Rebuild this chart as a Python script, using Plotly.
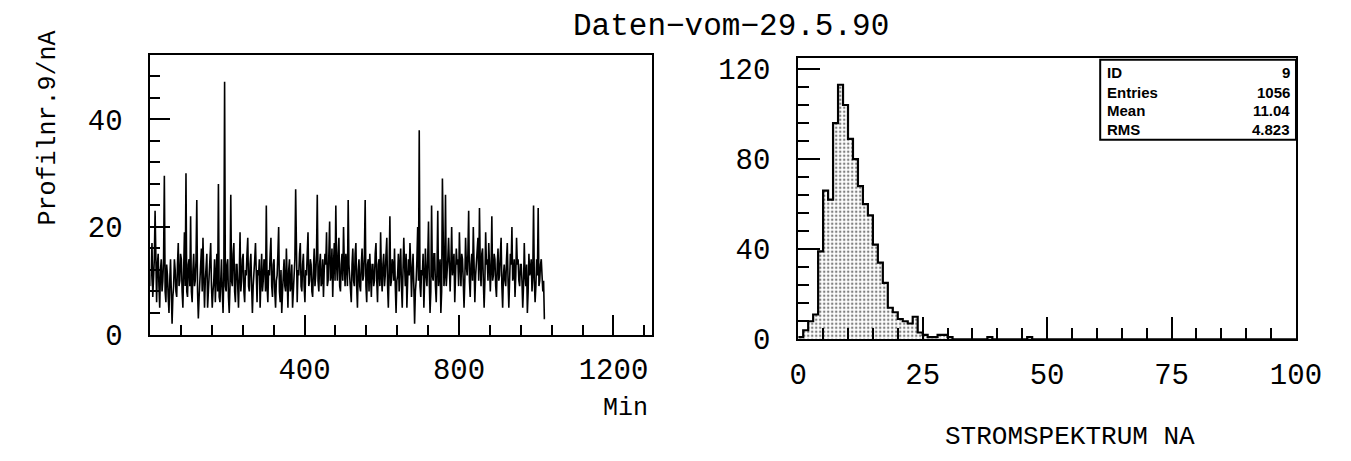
import plotly.graph_objects as go

W, H = 1351, 461

# ---------------- data ----------------
title_text = "Daten\u2212vom\u221229.5.90"
left_ylabel = "Profilnr.9/nA"
left_xlabel = "Min"
right_xlabel = "STROMSPEKTRUM NA"

# current profile (nA), one reading per 2-minute slot
profile_step_min = 2
profile_values = [
    9, 15, 17, 7, 11, 14, 23, 8, 6, 13, 15, 9, 5, 12, 14, 8,
    10, 14, 29.5, 8, 6, 13, 11, 7, 4, 10, 14, 8, 2, 7, 9, 14,
    12, 8, 7, 13, 17, 9, 10, 15, 14, 8, 5, 12, 19, 9, 30, 8,
    7, 13, 14, 9, 22, 8, 6, 12, 15, 9, 10, 14, 25, 8, 3, 7,
    10, 14, 16, 8, 18, 11, 5, 10, 12, 15, 5, 8, 9, 13, 17, 9,
    5, 8, 10, 14, 6, 11, 15, 8, 28, 7, 6, 10, 14, 8, 4, 11,
    47, 9, 8, 13, 14, 7, 4, 9, 26, 10, 9, 15, 17, 8, 6, 13,
    13, 9, 5, 11, 19, 8, 10, 14, 15, 8, 6, 12, 11, 15, 18, 9,
    8, 13, 15, 9, 4, 9, 11, 14, 17, 9, 6, 12, 11, 14, 5, 10,
    15, 8, 10, 14, 13, 8, 24, 9, 6, 12, 11, 15, 18, 9, 7, 13,
    14, 8, 5, 10, 11, 15, 20, 8, 6, 12, 4, 8, 12, 14, 9, 8,
    16, 9, 5, 12, 14, 8, 9, 13, 5, 8, 12, 14, 27, 9, 6, 12,
    11, 15, 17, 9, 8, 13, 15, 9, 6, 12, 11, 15, 19, 9, 10, 14,
    13, 8, 7, 12, 16, 9, 11, 15, 26, 10, 8, 13, 15, 9, 10, 14,
    7, 12, 15, 13, 19, 9, 10, 15, 21, 10, 11, 16, 7, 13, 17, 10,
    24, 13, 10, 15, 18, 9, 8, 13, 15, 10, 20, 13, 9, 15, 13, 9,
    25, 13, 10, 8, 6, 13, 16, 10, 9, 15, 17, 9, 5, 12, 14, 9,
    8, 13, 16, 10, 11, 15, 25, 9, 6, 13, 14, 8, 15, 11, 7, 13,
    13, 9, 10, 15, 17, 10, 6, 13, 14, 9, 19, 11, 8, 13, 15, 9,
    11, 15, 18, 9, 5, 12, 22, 9, 10, 14, 13, 10, 16, 9, 4, 10,
    11, 15, 8, 13, 16, 9, 5, 12, 18, 13, 9, 15, 5, 10, 14, 11,
    17, 13, 7, 12, 15, 9, 2, 8, 10, 14, 20, 10, 38, 9, 7, 12,
    11, 15, 5, 10, 16, 11, 9, 14, 21, 10, 4, 8, 24, 11, 10, 15,
    15, 9, 6, 12, 23, 9, 11, 14, 4, 8, 29, 13, 9, 11, 26, 9,
    11, 14, 18, 9, 8, 13, 20, 11, 13, 15, 6, 11, 16, 13, 14, 9,
    19, 13, 9, 15, 14, 10, 5, 10, 18, 13, 11, 15, 23, 10, 7, 13,
    15, 10, 20, 13, 6, 11, 13, 15, 18, 10, 23.5, 13, 9, 15, 16, 10,
    5, 10, 19, 13, 14, 10, 17, 13, 8, 12, 22, 10, 11, 15, 14, 9,
    7, 13, 16, 10, 11, 15, 18, 9, 5, 11, 13, 10, 9, 14, 17, 10,
    5, 10, 15, 13, 20, 10, 11, 14, 7, 11, 18, 13, 14, 10, 9, 13,
    13, 10, 5, 9, 17, 11, 9, 13, 4, 8, 15, 11, 12, 14, 8, 11,
    24, 10, 6, 9, 14, 11, 23.5, 9, 10, 13, 14, 11, 8, 10, 3, 3,
]
profile_minutes = [profile_step_min * i + profile_step_min / 2 for i in range(len(profile_values))]

# current spectrum histogram, 1 nA bins from 0 to 100
hist_counts = [
    1, 4, 8, 11, 39, 66, 62, 96, 113, 104,
    89, 80, 68, 60, 55, 42, 34, 25, 14, 12,
    9, 8, 7, 10, 3, 2, 1, 1, 2, 2,
    1, 0, 0, 0, 0, 0, 0, 0, 1, 0,
    0, 0, 0, 0, 0, 0, 1, 0, 0, 0,
    0, 0, 0, 0, 0, 0, 0, 0, 0, 0,
    0, 0, 0, 0, 0, 0, 0, 0, 0, 0,
    0, 0, 0, 0, 0, 0, 0, 0, 0, 0,
    0, 0, 0, 0, 0, 0, 0, 0, 0, 0,
    0, 0, 0, 0, 0, 0, 0, 0, 0, 0,
]
hist_lo, hist_hi = 0, 100

stats_labels = ["ID", "Entries", "Mean", "RMS"]
stats_values = ["9", "1056", "11.04", "4.823"]

# ---------------- figure ----------------
def px(x):
    return x / W

def py(y):
    return 1 - y / H

nb = len(hist_counts)
bw = (hist_hi - hist_lo) / nb
hx = [hist_lo + i * bw for i in range(nb)] + [hist_hi]
hy = hist_counts + [hist_counts[-1]]

FONT = "Liberation Mono"
SFONT = "Liberation Sans"

fig = go.Figure()
fig.add_trace(go.Scatter(
    x=profile_minutes, y=profile_values, mode="lines",
    line=dict(color="black", width=1.6),
    xaxis="x", yaxis="y", showlegend=False, hoverinfo="skip"))
fig.add_trace(go.Scatter(
    x=hx, y=hy, mode="lines",
    line=dict(color="black", width=2.2, shape="hv"),
    fill="tozeroy", fillcolor="white",
    fillpattern=dict(shape=".", fgcolor="black", bgcolor="white", size=4, solidity=0.3),
    xaxis="x2", yaxis="y2", showlegend=False, hoverinfo="skip"))

tickfont = dict(family=FONT, size=29, color="black")
axis_common = dict(showline=True, linecolor="black", linewidth=2, mirror=True,
                   showgrid=False, zeroline=False, ticks="inside", tickcolor="black",
                   tickwidth=1.6, tickfont=tickfont)

fig.update_layout(
    width=W, height=H, margin=dict(l=0, r=0, t=0, b=0),
    paper_bgcolor="white", plot_bgcolor="white",
    xaxis=dict(axis_common, domain=[px(137), px(652)], range=[1, 1300],
               tickmode="linear", tick0=0, dtick=400, ticklen=20, ticklabelstandoff=8,
               minor=dict(ticks="inside", tick0=0, dtick=80, ticklen=10, tickwidth=1.6, tickcolor="black"),
               anchor="y"),
    yaxis=dict(axis_common, domain=[py(340), py(47)], range=[0, 52],
               tickmode="linear", tick0=0, dtick=20, ticklen=20, ticklabelstandoff=20,
               minor=dict(ticks="inside", tick0=0, dtick=4, ticklen=10, tickwidth=1.6, tickcolor="black"),
               anchor="x"),
    xaxis2=dict(axis_common, domain=[px(802), px(1313)], range=[hist_lo, hist_hi],
                tickmode="linear", tick0=0, dtick=25, ticklen=22, ticklabelstandoff=8,
                minor=dict(ticks="inside", tick0=0, dtick=5, ticklen=11, tickwidth=1.6, tickcolor="black"),
                anchor="y2"),
    yaxis2=dict(axis_common, domain=[py(345), py(50)], range=[0, 125],
                tickmode="linear", tick0=0, dtick=40, ticklen=22, ticklabelstandoff=20,
                minor=dict(ticks="inside", tick0=0, dtick=8, ticklen=11, tickwidth=1.6, tickcolor="black"),
                anchor="x2"),
)

annots = [
    dict(text=title_text, x=px(733), y=py(17), font=dict(family=FONT, size=31, color="black"),
         xanchor="center", yanchor="middle"),
    dict(text=left_ylabel, x=px(32), y=py(124), textangle=-90,
         font=dict(family=FONT, size=25, color="black"), xanchor="center", yanchor="middle"),
    dict(text=left_xlabel, x=px(650), y=py(418), font=dict(family=FONT, size=25, color="black"),
         xanchor="right", yanchor="middle"),
    dict(text=right_xlabel, x=px(1081), y=py(447), font=dict(family=FONT, size=26, color="black"),
         xanchor="center", yanchor="middle"),
]
row_y = [65, 86, 105, 125]
for lab, val, yy in zip(stats_labels, stats_values, row_y):
    annots.append(dict(text="<b>%s</b>" % lab, x=px(1117), y=py(yy), xanchor="left", yanchor="middle",
                       font=dict(family=SFONT, size=15, color="black")))
    annots.append(dict(text="<b>%s</b>" % val, x=px(1309), y=py(yy), xanchor="right", yanchor="middle",
                       font=dict(family=SFONT, size=15, color="black")))
for a in annots:
    a.update(xref="paper", yref="paper", showarrow=False)
fig.update_layout(annotations=annots)

fig.add_shape(type="rect", xref="paper", yref="paper",
              x0=px(1112), x1=px(1313), y0=py(136), y1=py(52),
              line=dict(color="black", width=2), fillcolor="rgba(0,0,0,0)")

fig.write_html("out.html")
